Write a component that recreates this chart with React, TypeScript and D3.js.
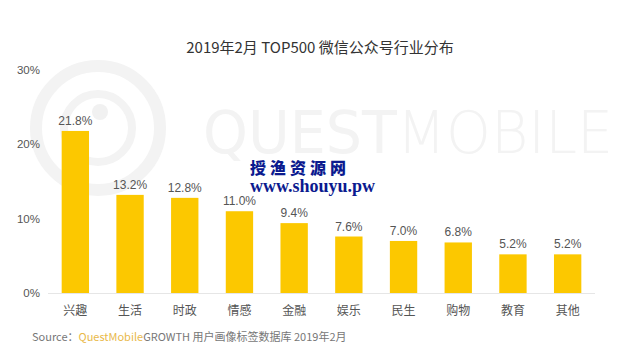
import React from "react";
import * as d3 from "d3";

const categories = ["兴趣", "生活", "时政", "情感", "金融", "娱乐", "民生", "购物", "教育", "其他"];
const values = [21.8, 13.2, 12.8, 11.0, 9.4, 7.6, 7.0, 6.8, 5.2, 5.2];
const yTicks = [0, 10, 20, 30];

const W = 640, H = 357;
const left = 48, right = 595, top = 70, bottom = 293;

export default function App() {
  const x = d3.scaleBand<string>().domain(categories).range([left, right]).paddingInner(0.5).paddingOuter(0.25);
  const y = d3.scaleLinear().domain([0, 30]).range([bottom, top]);
  const cjk = "'Noto Sans CJK SC', 'Noto Sans', sans-serif";
  const num = "'Liberation Sans', Arial, sans-serif";
  return (
    <svg width={W} height={H} style={{ position: "absolute", left: 0, top: 0, background: "#fff" }}>
      <rect width={W} height={H} fill="#fff" />
      {/* faint logo watermark */}
      <g fill="none" stroke="#f3f3f3">
        <circle cx={98} cy={128} r={62} strokeWidth={12} />
        <circle cx={98} cy={128} r={34} strokeWidth={8} />
        <circle cx={100} cy={112} r={8} fill="#f1f1f1" stroke="none" />
      </g>
      <text x={203} y={153} fontFamily="'DejaVu Sans', sans-serif" fontSize={58} fill="#f3f3f3" textLength={410} lengthAdjust="spacingAndGlyphs">
        <tspan fontWeight={400}>QUEST</tspan><tspan fontWeight={200}>MOBILE</tspan>
      </text>
      <text x={320} y={53} textAnchor="middle" fontFamily={cjk} fontSize={15} fill="#333">2019年2月 TOP500 微信公众号行业分布</text>
      {yTicks.map(t => (
        <text key={t} x={40} y={y(t) + 4} textAnchor="end" fontFamily={num} fontSize={11.5} fill="#555">{t}%</text>
      ))}
      <line x1={left} x2={right} y1={bottom + 0.5} y2={bottom + 0.5} stroke="#e6e6e6" strokeWidth={1} />
      {categories.map((c, i) => {
        const bx = x(c)!;
        const cx = bx + x.bandwidth() / 2;
        return (
          <g key={c}>
            <rect x={bx} y={y(values[i])} width={x.bandwidth()} height={bottom - y(values[i])} fill="#fcc800" />
            <text x={cx} y={y(values[i]) - 6} textAnchor="middle" fontFamily={num} fontSize={12} fill="#555">{values[i].toFixed(1)}%</text>
            <text x={cx} y={315} textAnchor="middle" fontFamily={cjk} fontSize={12} fill="#555">{c}</text>
          </g>
        );
      })}
      <text x={250} y={174} fontFamily="'Noto Sans CJK SC', serif" fontWeight={900} fontSize={16} fill="#0b1a8f" letterSpacing={4}>授渔资源网</text>
      <text x={250} y={192} fontFamily="'Liberation Serif', 'DejaVu Serif', serif" fontWeight={700} fontSize={18} fill="#0b1a8f">www.shouyu.pw</text>
      <text x={32} y={341} fontFamily={cjk} fontSize={11} fill="#777">
        Source：<tspan fill="#e9b94a">QuestMobile</tspan>GROWTH 用户画像标签数据库  2019年2月
      </text>
    </svg>
  );
}
